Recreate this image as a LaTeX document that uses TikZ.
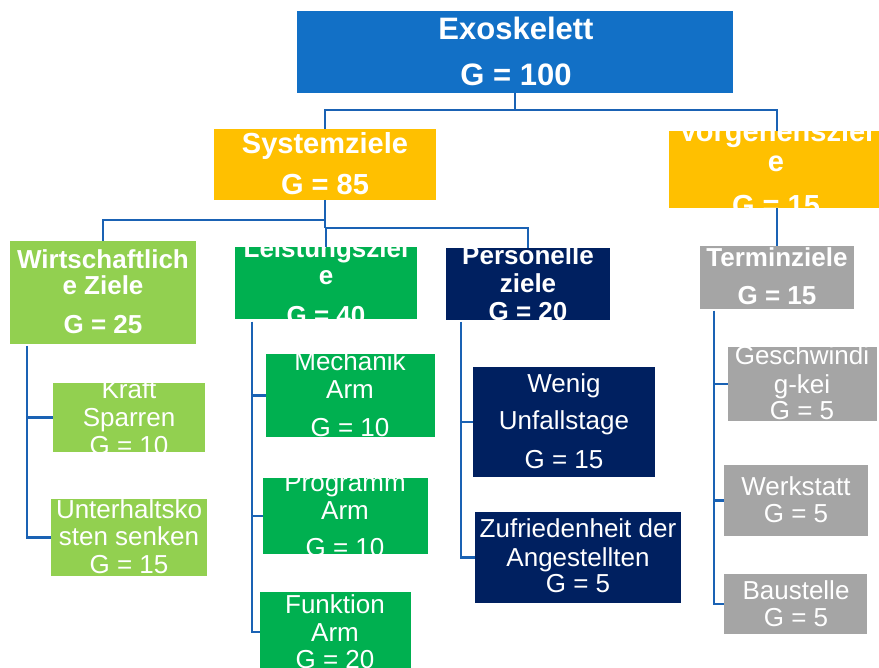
\documentclass[tikz,border=0pt]{standalone}
\usepackage{fontspec}
\setmainfont{Liberation Sans}
\definecolor{topblue}{RGB}{18,112,198}
\definecolor{gold}{RGB}{255,192,0}
\definecolor{lightgreen}{RGB}{146,208,80}
\definecolor{midgreen}{RGB}{0,176,80}
\definecolor{navy}{RGB}{0,32,96}
\definecolor{grey}{RGB}{165,165,165}
\definecolor{linkblue}{RGB}{26,98,180}
\tikzset{
  goalbox/.style={anchor=north west, inner sep=0pt, outer sep=0pt, draw=none},
  conn/.style={draw=linkblue, line width=2.8pt},
  bigtxt/.style={anchor=base, inner sep=0pt, text=white, font=\bfseries\fontsize{31}{34}\selectfont},
  midtxt/.style={anchor=base, inner sep=0pt, text=white, font=\bfseries\fontsize{29}{32}\selectfont},
  lvtwo/.style={anchor=base, inner sep=0pt, text=white, font=\bfseries\fontsize{26}{30}\selectfont},
  lvthree/.style={anchor=base, inner sep=0pt, text=white, font=\fontsize{26}{30}\selectfont},
}
% \gbox{name}{x}{y}{width}{height}{colour}
\newcommand\gbox[6]{\node[goalbox, fill=#6, minimum width=#4pt, minimum height=#5pt] (#1) at (#2,#3) {};}
\newcommand\cliptobox[1]{\clip (#1.south west) rectangle (#1.north east);}
\begin{document}
\begin{tikzpicture}[x=1pt, y=-1pt]
\useasboundingbox (0,0) rectangle (879,668);
\clip (0,0) rectangle (879,668);

% ---- boxes ----
\gbox{exo}{297}{11}{436}{82}{topblue}
\gbox{sys}{214}{129}{222}{71}{gold}
\gbox{vorg}{669}{131}{216}{77}{gold}
\gbox{wirt}{10}{241}{186}{103}{lightgreen}
\gbox{leist}{235}{247}{182}{72}{midgreen}
\gbox{pers}{446}{248}{164}{72}{navy}
\gbox{term}{700}{246}{154}{63}{grey}
\gbox{kraft}{53}{383}{152}{69}{lightgreen}
\gbox{unter}{51}{499}{156}{77}{lightgreen}
\gbox{mech}{266}{354}{169}{83}{midgreen}
\gbox{prog}{263}{478}{165}{76}{midgreen}
\gbox{funk}{260}{592}{151}{80}{midgreen}
\gbox{wenig}{473}{367}{182}{110}{navy}
\gbox{zufr}{475}{512}{206}{91}{navy}
\gbox{gesch}{728}{347}{149}{74}{grey}
\gbox{werk}{724}{465}{144}{71}{grey}
\gbox{baust}{724}{574}{143}{60}{grey}

% ---- labels, each clipped to its box ----
\begin{scope}\cliptobox{exo}
  \node[bigtxt] (exo-a) at (516,39.5) {Exoskelett};
  \node[bigtxt] (exo-b) at (516,85.5) {G = 100};
\end{scope}
\begin{scope}\cliptobox{sys}
  \node[midtxt] (sys-a) at (325,153.5) {Systemziele};
  \node[midtxt] (sys-b) at (325,195) {G = 85};
\end{scope}
\begin{scope}\cliptobox{vorg}
  \node[midtxt] (vorg-a) at (776,142) {Vorgehensziel};
  \node[midtxt] (vorg-b) at (776,172) {e};
  \node[midtxt] (vorg-c) at (776,216) {G = 15};
\end{scope}
\begin{scope}\cliptobox{wirt}
  \node[lvtwo] (wirt-a) at (103,268.3) {Wirtschaftlich};
  \node[lvtwo] (wirt-b) at (103,295) {e Ziele};
  \node[lvtwo] (wirt-c) at (103,334) {G = 25};
\end{scope}
\begin{scope}\cliptobox{leist}
  \node[lvtwo] (leist-a) at (326,258) {Leistungsziel};
  \node[lvtwo] (leist-b) at (326,285) {e};
  \node[lvtwo] (leist-c) at (326,325) {G = 40};
\end{scope}
\begin{scope}\cliptobox{pers}
  \node[lvtwo] (pers-a) at (528,265) {Personelle};
  \node[lvtwo] (pers-b) at (528,292.7) {ziele};
  \node[lvtwo] (pers-c) at (528,321) {G = 20};
\end{scope}
\begin{scope}\cliptobox{term}
  \node[lvtwo] (term-a) at (777,266.7) {Terminziele};
  \node[lvtwo] (term-b) at (777,305) {G = 15};
\end{scope}
\begin{scope}\cliptobox{kraft}
  \node[lvthree] (kraft-a) at (129,399) {Kraft};
  \node[lvthree] (kraft-b) at (129,426.7) {Sparren};
  \node[lvthree] (kraft-c) at (129,454.3) {G = 10};
\end{scope}
\begin{scope}\cliptobox{unter}
  \node[lvthree] (unter-a) at (129,518.3) {Unterhaltsko};
  \node[lvthree] (unter-b) at (129,545.7) {sten senken};
  \node[lvthree] (unter-c) at (129,573.3) {G = 15};
\end{scope}
\begin{scope}\cliptobox{mech}
  \node[lvthree] (mech-a) at (350,371) {Mechanik};
  \node[lvthree] (mech-b) at (350,399) {Arm};
  \node[lvthree] (mech-c) at (350,437) {G = 10};
\end{scope}
\begin{scope}\cliptobox{prog}
  \node[lvthree] (prog-a) at (345,491.7) {Programm};
  \node[lvthree] (prog-b) at (345,519) {Arm};
  \node[lvthree] (prog-c) at (345,556.6) {G = 10};
\end{scope}
\begin{scope}\cliptobox{funk}
  \node[lvthree] (funk-a) at (335,613.3) {Funktion};
  \node[lvthree] (funk-b) at (335,641) {Arm};
  \node[lvthree] (funk-c) at (335,668) {G = 20};
\end{scope}
\begin{scope}\cliptobox{wenig}
  \node[lvthree] (wenig-a) at (564,392.3) {Wenig};
  \node[lvthree] (wenig-b) at (564,430) {Unfallstage};
  \node[lvthree] (wenig-c) at (564,468.3) {G = 15};
\end{scope}
\begin{scope}\cliptobox{zufr}
  \node[lvthree] (zufr-a) at (578,537.3) {Zufriedenheit der};
  \node[lvthree] (zufr-b) at (578,566) {Angestellten};
  \node[lvthree] (zufr-c) at (578,592.7) {G = 5};
\end{scope}
\begin{scope}\cliptobox{gesch}
  \node[lvthree] (gesch-a) at (802,365) {Geschwindi};
  \node[lvthree] (gesch-b) at (802,393.3) {g-kei};
  \node[lvthree] (gesch-c) at (802,420) {G = 5};
\end{scope}
\begin{scope}\cliptobox{werk}
  \node[lvthree] (werk-a) at (796,495.7) {Werkstatt};
  \node[lvthree] (werk-b) at (796,522.7) {G = 5};
\end{scope}
\begin{scope}\cliptobox{baust}
  \node[lvthree] (baust-a) at (796,599) {Baustelle};
  \node[lvthree] (baust-b) at (796,626.7) {G = 5};
\end{scope}

% ---- connectors ----
\coordinate (j0) at (515,110);
\draw[conn] (exo.south) -- (j0);
\draw[conn] (j0) -| (sys.north);
\draw[conn] (j0) -| (vorg.north);

\coordinate (j1) at (325,220);
\coordinate (j2) at (325,228);
\draw[conn] (sys.south) -- (j2);
\draw[conn] (j1) -| (wirt.north);
\draw[conn] (j2) -| (leist.north);
\draw[conn] (j2) -| (pers.north);

\draw[conn] (vorg.south) -- (term.north);

\coordinate (wt) at (27,346);
\draw[conn] (wt) |- (kraft.west);
\draw[conn] (wt) |- (unter.west);

\coordinate (lt) at (252,322);
\draw[conn] (lt) |- (mech.west);
\draw[conn] (lt) |- (prog.west);
\draw[conn] (lt) |- (funk.west);

\coordinate (pt) at (461,322);
\draw[conn] (pt) |- (wenig.west);
\draw[conn] (pt) |- (zufr.west);

\coordinate (tt) at (714,311);
\draw[conn] (tt) |- (gesch.west);
\draw[conn] (tt) |- (werk.west);
\draw[conn] (tt) |- (baust.west);
\end{tikzpicture}
\end{document}
